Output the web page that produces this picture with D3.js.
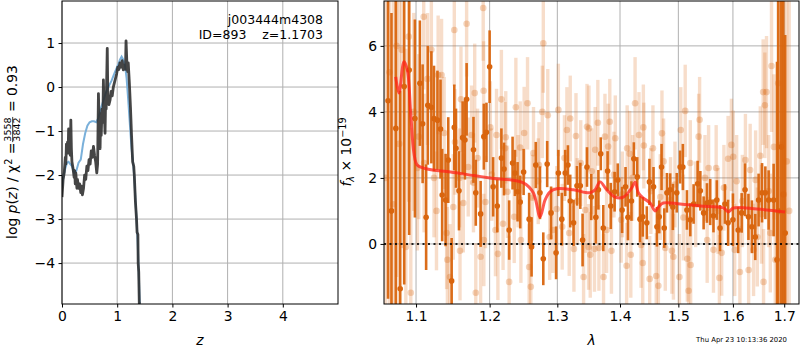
<!DOCTYPE html>
<html>
<head>
<meta charset="utf-8">
<script src="https://d3js.org/d3.v7.min.js"></script>
<style>
  body { margin: 0; background: #fff; }
  svg { font-family: "DejaVu Sans", sans-serif; }
</style>
</head>
<body>
<div id="plot"></div>
<script>
// p(z) curves (left panel)
const pzZ = [0.00,0.02,0.04,0.06,0.07,0.08,0.09,0.10,0.11,0.12,0.13,0.14,0.15,0.16,0.17,0.18,0.20,0.22,0.23,0.24,0.25,0.27,0.28,0.30,0.32,0.34,0.35,0.37,0.39,0.41,0.43,0.45,0.47,0.49,0.51,0.53,0.55,0.57,0.59,0.61,0.63,0.645,0.66,0.675,0.69,0.70,0.71,0.725,0.74,0.75,0.76,0.77,0.78,0.79,0.80,0.82,0.83,0.85,0.87,0.89,0.91,0.93,0.95,0.97,0.99,1.01,1.03,1.05,1.07,1.09,1.11,1.13,1.15,1.16,1.175,1.19,1.20,1.22,1.24,1.26,1.28,1.30,1.31,1.33,1.35,1.36,1.375,1.38,1.39,1.40,1.42];
const pzLog = [-2.50,-2.10,-1.95,-1.60,-1.75,-1.30,-1.45,-1.25,-1.50,-0.95,-1.35,-1.20,-1.55,-0.75,-1.40,-1.70,-1.85,-2.05,-1.90,-2.20,-1.95,-2.30,-2.10,-2.30,-2.20,-2.40,-2.25,-2.45,-2.30,-2.00,-2.10,-1.80,-1.90,-1.65,-1.75,-1.45,-1.60,-1.35,-1.55,-1.70,-1.95,-1.75,-0.15,-0.95,-1.40,-0.60,-1.10,-0.50,-0.80,0.16,-0.40,-0.70,-1.05,-0.30,-0.50,0.88,-0.20,-0.40,-0.30,-0.10,-0.20,0.00,0.10,0.20,0.30,0.45,0.40,0.55,0.45,0.60,0.39,0.50,0.40,1.05,0.55,0.35,0.55,0.10,-0.45,-1.10,-1.70,-1.80,-2.00,-2.60,-3.00,-3.30,-3.35,-4.00,-4.20,-4.90,-5.50];
const priorZ = [0.00,0.03,0.06,0.09,0.12,0.15,0.18,0.22,0.26,0.30,0.34,0.38,0.42,0.46,0.50,0.54,0.58,0.62,0.66,0.70,0.74,0.78,0.82,0.86,0.90,0.94,0.98,1.02,1.05,1.08,1.11,1.14,1.17,1.20,1.23,1.26,1.29,1.31,1.33,1.35,1.37,1.39,1.41];
const priorLog = [-2.27,-2.00,-1.85,-1.72,-1.70,-1.75,-1.80,-1.95,-1.90,-1.72,-1.65,-1.30,-1.05,-0.88,-0.80,-0.78,-0.78,-0.80,-0.70,-0.50,-0.35,-0.18,-0.05,0.05,0.15,0.28,0.40,0.52,0.62,0.69,0.62,0.50,0.20,-0.30,-0.85,-1.40,-1.75,-2.05,-2.55,-3.00,-3.50,-4.20,-5.00];

// spectrum (right panel)
const darkWave = [1.0642,1.0685,1.0740,1.0796,1.0847,1.0911,1.0985,1.1050,1.1086,1.1132,1.1154,1.1201,1.1236,1.1282,1.1323,1.1345,1.1391,1.1427,1.1473,1.1509,1.1532,1.1573,1.1623,1.1655,1.1678,1.1773,1.1805,1.1873,1.1918,1.1955,1.2000,1.2050,1.2109,1.2168,1.2206,1.2280,1.2330,1.2364,1.2403,1.2442,1.2492,1.2574,1.2610,1.2673,1.2736,1.2786,1.2845,1.2904,1.2981,1.3016,1.3069,1.3122,1.3164,1.3200,1.3252,1.3306,1.3358,1.3394,1.3464,1.3532,1.3606,1.3647,1.3685,1.3726,1.3796,1.3848,1.3911,1.3963,1.4035,1.4092,1.4132,1.4191,1.4231,1.4288,1.4335,1.4382,1.4451,1.4496,1.4566,1.4625,1.4665,1.4705,1.4752,1.4799,1.4856,1.4903,1.4972,1.5031,1.5080,1.5153,1.5213,1.5273,1.5346,1.5395,1.5455,1.5516,1.5576,1.5636,1.5698,1.5758,1.5849,1.5909,1.6000,1.6099,1.6166,1.6231,1.6296,1.6363,1.6428,1.6493,1.6560,1.6625,1.6690,1.6789,1.6856,1.6881,1.6941,1.6980,1.7020];
const darkFlux = [4.34,1.00,3.50,-1.36,4.77,5.27,3.80,4.87,3.64,0.81,4.20,4.14,3.80,3.75,3.48,1.48,1.33,2.54,-1.12,3.53,2.90,1.61,3.22,3.15,4.38,2.85,1.55,0.91,3.25,3.38,5.37,1.73,1.15,2.60,2.27,0.42,2.45,2.15,1.58,1.27,2.18,0.75,-0.09,2.39,1.55,-0.45,2.42,0.94,-0.27,2.15,0.75,2.15,2.39,1.30,0.64,1.76,1.76,0.12,2.33,1.42,0.81,1.64,2.73,0.48,2.21,1.15,1.58,1.94,1.03,1.73,0.81,1.30,2.58,2.03,0.75,0.82,0.64,1.88,1.73,0.52,0.82,2.33,0.48,1.55,1.64,1.12,1.55,2.33,2.33,1.03,0.73,1.21,1.82,1.61,0.94,1.24,1.27,0.85,1.33,0.48,1.21,0.64,0.73,0.42,0.94,1.64,0.82,0.52,0.21,1.33,1.55,1.55,1.33,1.33,-0.48,1.00,2.94,1.50,0.33];
const darkErr = [6.0,6.0,6.0,6.0,6.0,5.0,3.0,1.9,1.8,1.6,1.8,1.7,1.6,1.5,1.5,1.4,1.4,1.3,1.3,1.3,1.2,1.2,1.1,1.2,1.1,1.0,1.0,1.0,1.0,0.9,1.1,0.9,0.8,0.9,0.8,0.9,0.8,0.7,0.9,0.8,0.7,0.8,0.9,0.7,0.8,0.8,0.7,0.8,0.8,0.7,0.8,0.7,0.6,0.8,0.7,0.6,0.7,0.8,0.6,0.7,0.8,0.6,0.5,0.7,0.6,0.7,0.6,0.5,0.7,0.6,0.7,0.6,0.5,0.6,0.7,0.6,0.5,0.7,0.6,0.6,0.5,0.7,0.6,0.6,0.5,0.7,0.6,0.5,0.7,0.6,0.5,0.6,0.7,0.6,0.5,0.6,0.7,0.5,0.6,0.7,0.6,0.7,0.8,0.7,0.6,0.8,0.7,0.8,0.7,0.8,0.9,0.8,0.9,1.1,6.0,7.0,6.0,7.0,6.0];

const paleWave = [1.0610,1.0660,1.0710,1.0750,1.0783,1.0815,1.0868,1.0905,1.0932,1.0970,1.1018,1.1035,1.1100,1.1105,1.1150,1.1201,1.1236,1.1269,1.1291,1.1337,1.1372,1.1405,1.1415,1.1450,1.1495,1.1509,1.1518,1.1580,1.1587,1.1600,1.1632,1.1678,1.1700,1.1746,1.1773,1.1790,1.1805,1.1830,1.1873,1.1909,1.1915,1.1918,1.1941,1.2010,1.2030,1.2083,1.2098,1.2118,1.2168,1.2192,1.2220,1.2231,1.2256,1.2280,1.2354,1.2378,1.2410,1.2442,1.2452,1.2500,1.2550,1.2574,1.2599,1.2620,1.2639,1.2710,1.2721,1.2771,1.2786,1.2854,1.2883,1.2933,1.2991,1.3016,1.3075,1.3110,1.3148,1.3184,1.3200,1.3258,1.3290,1.3310,1.3365,1.3410,1.3437,1.3464,1.3489,1.3495,1.3516,1.3540,1.3584,1.3595,1.3638,1.3655,1.3730,1.3753,1.3780,1.3805,1.3832,1.3859,1.3900,1.3922,1.4019,1.4040,1.4110,1.4119,1.4161,1.4180,1.4210,1.4252,1.4318,1.4353,1.4382,1.4392,1.4400,1.4500,1.4520,1.4556,1.4613,1.4650,1.4683,1.4712,1.4740,1.4770,1.4862,1.4885,1.4913,1.4940,1.5019,1.5043,1.5090,1.5122,1.5160,1.5183,1.5213,1.5220,1.5310,1.5364,1.5382,1.5480,1.5520,1.5546,1.5636,1.5686,1.5720,1.5746,1.5789,1.5830,1.5909,1.5971,1.6005,1.6033,1.6070,1.6132,1.6180,1.6238,1.6300,1.6329,1.6395,1.6435,1.6468,1.6526,1.6550,1.6582,1.6590,1.6615,1.6648,1.6690,1.6723,1.6747,1.6795,1.6822,1.6880,1.6930,1.6990,1.7050,1.7100];
const paleFlux = [2.00,5.20,1.20,6.00,3.03,5.88,-0.09,6.28,-1.48,4.00,2.30,3.25,6.88,2.45,5.00,5.88,2.00,1.00,5.12,5.12,3.36,0.33,-0.48,-1.00,1.12,6.48,3.09,2.00,-0.21,4.38,1.24,6.67,2.33,3.30,1.85,4.57,-1.48,2.60,-0.39,7.15,4.64,0.12,1.27,3.53,2.10,0.42,3.30,-0.30,4.38,0.61,2.90,3.23,1.58,-1.15,0.82,4.14,1.90,2.92,0.12,3.36,4.26,-0.70,-1.30,1.40,2.75,1.90,2.39,4.00,6.08,3.90,0.21,0.42,1.06,4.06,0.52,2.60,3.45,0.33,3.80,-0.15,3.27,1.30,2.45,-1.00,1.03,3.55,-0.09,3.50,-0.33,2.20,-0.15,2.85,3.67,-0.12,-1.00,3.25,0.42,2.95,3.70,-0.21,2.10,3.20,0.73,1.50,-0.66,2.90,2.73,-0.33,2.00,4.26,3.30,-0.03,-0.58,3.53,2.98,-1.06,1.60,2.90,-0.97,-1.27,1.42,3.35,2.50,-0.12,1.33,-0.21,-0.39,1.80,-1.00,3.45,0.80,4.03,-0.45,-1.42,2.45,-0.64,1.20,3.25,3.76,2.00,0.12,2.30,-0.18,2.30,1.00,-1.03,-0.27,1.70,2.58,3.00,2.64,-0.18,1.90,-0.85,1.30,2.54,-0.79,2.24,-0.18,1.94,0.21,2.67,0.90,4.60,-1.15,4.20,4.60,1.60,0.33,5.39,2.94,-0.48,4.87,3.00,1.50,2.50,1.00];
const paleErr = [8.0,8.0,7.0,7.0,6.0,6.0,6.0,5.0,5.0,3.0,2.5,2.5,2.2,2.1,2.0,1.9,1.8,1.8,1.8,1.7,1.7,1.7,1.6,1.6,1.6,1.7,1.6,1.5,1.5,1.6,1.5,1.6,1.5,1.5,1.5,1.5,1.5,1.5,1.4,1.6,1.5,1.4,1.4,1.4,1.4,1.4,1.4,1.4,1.5,1.4,1.4,1.4,1.4,1.4,1.4,1.5,1.4,1.4,1.3,1.4,1.4,1.3,1.3,1.3,1.4,1.3,1.3,1.4,1.5,1.4,1.3,1.3,1.3,1.4,1.3,1.3,1.3,1.3,1.3,1.3,1.3,1.3,1.3,1.3,1.3,1.3,1.3,1.3,1.3,1.3,1.3,1.3,1.3,1.3,1.3,1.3,1.3,1.3,1.3,1.3,1.3,1.3,1.3,1.3,1.3,1.3,1.3,1.3,1.3,1.4,1.3,1.3,1.3,1.3,1.3,1.3,1.3,1.3,1.3,1.3,1.3,1.3,1.3,1.3,1.3,1.3,1.3,1.3,1.3,1.3,1.3,1.4,1.3,1.3,1.3,1.3,1.3,1.3,1.3,1.3,1.3,1.3,1.3,1.3,1.3,1.3,1.3,1.3,1.3,1.4,1.4,1.4,1.4,1.4,1.4,1.4,1.4,1.4,1.4,1.5,1.5,1.5,1.5,1.6,1.6,1.6,1.7,1.7,1.8,2.0,2.2,2.5,4.0,7.0,7.0,7.0,7.0];

const modelWave = [1.0739,1.0780,1.0844,1.0887,1.0931,1.0973,1.1016,1.1147,1.1460,1.1781,1.2006,1.2488,1.2636,1.2737,1.2812,1.2888,1.2991,1.3248,1.3513,1.3593,1.3674,1.3782,1.3918,1.4056,1.4196,1.4252,1.4307,1.4392,1.4507,1.4593,1.4650,1.4737,1.5031,1.5390,1.5820,1.5914,1.6008,1.6457,1.7017];
const modelFlux = [5.06,4.57,5.52,5.27,3.96,2.75,2.39,2.27,2.18,2.07,2.00,1.85,1.55,0.82,1.33,1.58,1.67,1.64,1.55,1.64,1.88,1.64,1.42,1.42,1.70,1.88,1.55,1.39,1.24,1.00,1.12,1.24,1.21,1.15,1.09,0.97,1.09,1.06,0.97];

const zTicks = [0, 1, 2, 3, 4];
const pzTicks = [1, 0, -1, -2, -3, -4];
const waveTicks = [1.1, 1.2, 1.3, 1.4, 1.5, 1.6, 1.7];
const fluxTicks = [0, 2, 4, 6];

const fs = 13.9;
const gridColor = "#b0b0b0";
const orange = "#d9650e";

const svg = d3
  .select("div#plot")
  .append("svg")
  .attr("width", 800)
  .attr("height", 350);

const defs = svg.append("defs");

// ---------- left panel: log p(z) ----------
const L = { x0: 62, x1: 338, y0: 1, y1: 304 };
const xZ = d3.scaleLinear().domain([0, 5]).range([L.x0, L.x1]);
const yZ = d3.scaleLinear().domain([-4.93, 1.955]).range([L.y1, L.y0]);

defs.append("clipPath").attr("id", "clipL")
  .append("rect").attr("x", L.x0).attr("y", L.y0)
  .attr("width", L.x1 - L.x0).attr("height", L.y1 - L.y0);

const gridL = svg.append("g");
gridL.selectAll(".vx").data(zTicks).enter().append("line")
  .attr("x1", (d) => xZ(d)).attr("x2", (d) => xZ(d))
  .attr("y1", L.y0).attr("y2", L.y1)
  .attr("stroke", gridColor).attr("stroke-width", 1);
gridL.selectAll(".hy").data(pzTicks).enter().append("line")
  .attr("x1", L.x0).attr("x2", L.x1)
  .attr("y1", (d) => yZ(d)).attr("y2", (d) => yZ(d))
  .attr("stroke", gridColor).attr("stroke-width", 1);

const plotL = svg.append("g").attr("clip-path", "url(#clipL)");
const lineZ = d3.line().x((d) => xZ(d[0])).y((d) => yZ(d[1]));

plotL.append("path")
  .datum(priorZ.map((z, i) => [z, priorLog[i]]))
  .attr("d", lineZ)
  .attr("fill", "none")
  .attr("stroke", "#7ab0da")
  .attr("stroke-width", 2);

plotL.append("path")
  .datum(pzZ.map((z, i) => [z, pzLog[i]]))
  .attr("d", lineZ)
  .attr("fill", "none")
  .attr("stroke", "#2b2b2b")
  .attr("stroke-opacity", 0.88)
  .attr("stroke-width", 2.8)
  .attr("stroke-linejoin", "round");

const axZx = svg.append("g").attr("transform", `translate(0,${L.y1})`)
  .call(d3.axisBottom(xZ).tickValues(zTicks).tickSize(3.5).tickPadding(3.5).tickFormat(d3.format("d")));
const axZy = svg.append("g").attr("transform", `translate(${L.x0},0)`)
  .call(d3.axisLeft(yZ).tickValues(pzTicks).tickSize(3.5).tickPadding(3.5).tickFormat(d3.format("d")));

svg.append("rect")
  .attr("x", L.x0).attr("y", L.y0)
  .attr("width", L.x1 - L.x0).attr("height", L.y1 - L.y0)
  .attr("fill", "none").attr("stroke", "#000").attr("stroke-width", 1);

svg.append("text")
  .attr("x", 323).attr("y", 24).attr("text-anchor", "end")
  .attr("font-size", 12.5).text("j003444m4308");
svg.append("text")
  .attr("x", 323).attr("y", 39).attr("text-anchor", "end")
  .attr("font-size", 12.5).style("white-space", "pre")
  .text("ID=893    z=1.1703");

svg.append("text")
  .attr("x", xZ(2.5)).attr("y", 345).attr("text-anchor", "middle")
  .attr("font-size", fs).attr("font-style", "italic").text("z");

// y label with a stacked fraction
const yLab = svg.append("g").attr("transform", "translate(17,152) rotate(-90)");
const part1 = yLab.append("text").attr("font-size", fs);
part1.append("tspan").text("log ");
part1.append("tspan").attr("font-style", "italic").text("p");
part1.append("tspan").text("(");
part1.append("tspan").attr("font-style", "italic").text("z");
part1.append("tspan").text(") / χ");
part1.append("tspan").attr("font-size", 9.7).attr("dy", -5).text("2");
part1.append("tspan").attr("dy", 5).text(" = ");
const w1 = part1.node().getComputedTextLength();
const num = yLab.append("text").attr("font-size", 9.5).attr("text-anchor", "middle").attr("y", -6).text("3558");
const den = yLab.append("text").attr("font-size", 9.5).attr("text-anchor", "middle").attr("y", 3).text("3842");
const wf = Math.max(num.node().getComputedTextLength(), den.node().getComputedTextLength());
const bar = yLab.append("line").attr("y1", -4.3).attr("y2", -4.3)
  .attr("stroke", "#000").attr("stroke-width", 0.8);
const part3 = yLab.append("text").attr("font-size", fs).style("white-space", "pre").text(" = 0.93");
const w3 = part3.node().getComputedTextLength();
const start = -(w1 + wf + 2 + w3) / 2;
part1.attr("x", start);
num.attr("x", start + w1 + 1 + wf / 2);
den.attr("x", start + w1 + 1 + wf / 2);
bar.attr("x1", start + w1 + 0.5).attr("x2", start + w1 + wf + 1.5);
part3.attr("x", start + w1 + wf + 2);

// ---------- right panel: spectrum ----------
const R = { x0: 384, x1: 799, y0: 1, y1: 304 };
const xW = d3.scaleLog().domain([1.0591, 1.730]).range([R.x0, R.x1]);
const yF = d3.scaleLinear().domain([-1.82, 7.36]).range([R.y1, R.y0]);

defs.append("clipPath").attr("id", "clipR")
  .append("rect").attr("x", R.x0).attr("y", R.y0)
  .attr("width", R.x1 - R.x0).attr("height", R.y1 - R.y0);

const gridR = svg.append("g");
gridR.selectAll(".vx").data(waveTicks).enter().append("line")
  .attr("x1", (d) => xW(d)).attr("x2", (d) => xW(d))
  .attr("y1", R.y0).attr("y2", R.y1)
  .attr("stroke", gridColor).attr("stroke-width", 1);
gridR.selectAll(".hy").data(fluxTicks).enter().append("line")
  .attr("x1", R.x0).attr("x2", R.x1)
  .attr("y1", (d) => yF(d)).attr("y2", (d) => yF(d))
  .attr("stroke", gridColor).attr("stroke-width", 1);

const plotR = svg.append("g").attr("clip-path", "url(#clipR)");

const pale = paleWave.map((w, i) => ({ w: w, f: paleFlux[i], e: paleErr[i] }));
const dark = darkWave.map((w, i) => ({ w: w, f: darkFlux[i], e: darkErr[i] }));

plotR.append("g").selectAll("line").data(pale).enter().append("line")
  .attr("x1", (d) => xW(d.w)).attr("x2", (d) => xW(d.w))
  .attr("y1", (d) => yF(d.f - d.e)).attr("y2", (d) => yF(d.f + d.e))
  .attr("stroke", orange).attr("stroke-opacity", 0.22).attr("stroke-width", 3.4);
plotR.append("g").selectAll("circle").data(pale).enter().append("circle")
  .attr("cx", (d) => xW(d.w)).attr("cy", (d) => yF(d.f)).attr("r", 3.3)
  .attr("fill", orange).attr("fill-opacity", 0.28);

plotR.append("g").selectAll("line").data(dark).enter().append("line")
  .attr("x1", (d) => xW(d.w)).attr("x2", (d) => xW(d.w))
  .attr("y1", (d) => yF(d.f - d.e)).attr("y2", (d) => yF(d.f + d.e))
  .attr("stroke", orange).attr("stroke-opacity", 0.95).attr("stroke-width", 2.6);
plotR.append("g").selectAll("circle").data(dark).enter().append("circle")
  .attr("cx", (d) => xW(d.w)).attr("cy", (d) => yF(d.f)).attr("r", 2.8)
  .attr("fill", orange);

plotR.append("path")
  .datum(modelWave.map((w, i) => [w, modelFlux[i]]))
  .attr("d", d3.line().x((d) => xW(d[0])).y((d) => yF(d[1])).curve(d3.curveCatmullRom.alpha(0.5)))
  .attr("fill", "none")
  .attr("stroke", "#ff2218")
  .attr("stroke-opacity", 0.75)
  .attr("stroke-width", 3);

plotR.append("line")
  .attr("x1", R.x0).attr("x2", R.x1)
  .attr("y1", yF(0)).attr("y2", yF(0))
  .attr("stroke", "#000").attr("stroke-width", 2)
  .attr("stroke-dasharray", "2,3.5").attr("stroke-opacity", 0.85);

const axWx = svg.append("g").attr("transform", `translate(0,${R.y1})`)
  .call(d3.axisBottom(xW).tickValues(waveTicks).tickSize(3.5).tickPadding(3.5).tickFormat(d3.format(".1f")));
const axFy = svg.append("g").attr("transform", `translate(${R.x0},0)`)
  .call(d3.axisLeft(yF).tickValues(fluxTicks).tickSize(3.5).tickPadding(3.5).tickFormat(d3.format("d")));

svg.append("rect")
  .attr("x", R.x0).attr("y", R.y0)
  .attr("width", R.x1 - R.x0).attr("height", R.y1 - R.y0)
  .attr("fill", "none").attr("stroke", "#000").attr("stroke-width", 1);

svg.append("text")
  .attr("x", (R.x0 + R.x1) / 2).attr("y", 345).attr("text-anchor", "middle")
  .attr("font-size", fs).attr("font-style", "italic").text("λ");

const fLab = svg.append("text")
  .attr("transform", "translate(351,152) rotate(-90)")
  .attr("text-anchor", "middle").attr("font-size", fs);
fLab.append("tspan").attr("font-style", "italic").text("f");
fLab.append("tspan").attr("font-size", 9.7).attr("font-style", "italic").attr("dy", 3).text("λ");
fLab.append("tspan").attr("dy", -3).text(" × 10");
fLab.append("tspan").attr("font-size", 9.7).attr("dy", -5.5).text("−19");

svg.append("text")
  .attr("x", 787).attr("y", 342).attr("text-anchor", "end")
  .attr("font-size", 6.9).text("Thu Apr 23 10:13:36 2020");

// common axis styling
[axZx, axZy, axWx, axFy].forEach((ax) => {
  ax.select(".domain").remove();
  ax.attr("font-family", null).attr("font-size", null);
  ax.selectAll("text").attr("font-size", fs).attr("fill", "#000");
  ax.selectAll("line").attr("stroke", "#000");
});
</script>
</body>
</html>
